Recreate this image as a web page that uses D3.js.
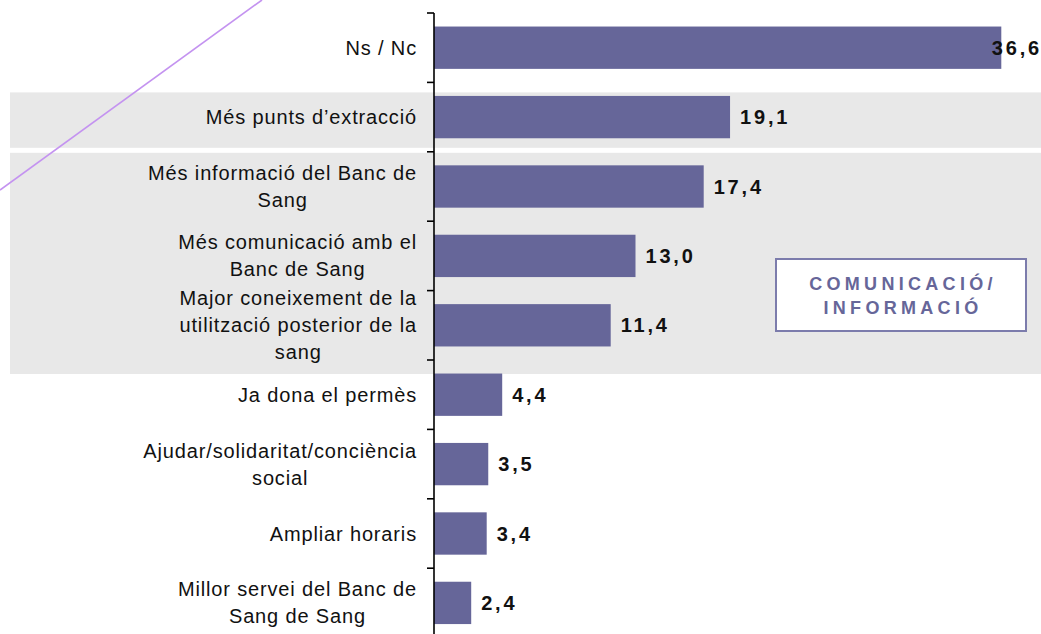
<!DOCTYPE html>
<html>
<head>
<meta charset="utf-8">
<script src="https://cdn.jsdelivr.net/npm/d3@7"></script>
<style>
  html, body { margin: 0; padding: 0; background: #fff; }
  svg { display: block; }
</style>
</head>
<body>
<div id="chart"></div>
<script>
const categories = [
  ["Ns / Nc"],
  ["Més punts d\u2019extracció"],
  ["Més informació del Banc de", "Sang"],
  ["Més comunicació amb el", "Banc de Sang"],
  ["Major coneixement de la", "utilització posterior de la", "sang"],
  ["Ja dona el permès"],
  ["Ajudar/solidaritat/conciència", "social"],
  ["Ampliar horaris"],
  ["Millor servei del Banc de", "Sang de Sang"]
];
const values = [36.6, 19.1, 17.4, 13.0, 11.4, 4.4, 3.5, 3.4, 2.4];
const boxLines = ["COMUNICACIÓ/", "INFORMACIÓ"];

const W = 1041, H = 634;
const BAR = "#666699";
const AXIS_X = 434;

const svg = d3.select("#chart").append("svg")
  .attr("width", W).attr("height", H);

const idx = d3.range(categories.length);

const y = d3.scaleBand()
  .domain(idx)
  .range([13, 13 + 69.4 * categories.length])
  .paddingInner(0.39)
  .paddingOuter(0.195);

const step = y.step();
const bandTop = i => y(i) - step * 0.195;
const bandBot = i => y(i) + y.bandwidth() + step * 0.195;

const x = d3.scaleLinear()
  .domain([0, 40])
  .range([AXIS_X, AXIS_X + 620]);

// grey highlight bands
svg.append("rect")
  .attr("x", 10).attr("y", bandTop(1) + 10)
  .attr("width", W - 10).attr("height", bandBot(1) - bandTop(1) - 14)
  .attr("fill", "#e8e8e8");

svg.append("rect")
  .attr("x", 10).attr("y", bandTop(2) + 1)
  .attr("width", W - 10).attr("height", bandBot(4) - bandTop(2) + 13)
  .attr("fill", "#e8e8e8");

// decorative diagonal
svg.append("line")
  .attr("x1", 0).attr("y1", 190)
  .attr("x2", 262).attr("y2", 0)
  .attr("stroke", "#c493f0").attr("stroke-width", 1.6);

// bars
svg.selectAll(".bar")
  .data(idx)
  .join("rect")
    .attr("class", "bar")
    .attr("x", x(0))
    .attr("y", i => y(i))
    .attr("width", i => x(values[i]) - x(0))
    .attr("height", y.bandwidth())
    .attr("fill", BAR);

// axis line + ticks at band boundaries
svg.append("line")
  .attr("x1", AXIS_X).attr("x2", AXIS_X)
  .attr("y1", 13).attr("y2", H)
  .attr("stroke", "#000").attr("stroke-width", 1.6);

svg.selectAll(".tick")
  .data(d3.range(categories.length + 1))
  .join("line")
    .attr("class", "tick")
    .attr("x1", AXIS_X - 7).attr("x2", AXIS_X)
    .attr("y1", i => 13 + i * step)
    .attr("y2", i => 13 + i * step)
    .attr("stroke", "#000").attr("stroke-width", 1.6);

// category labels
const LINE_H = 27;
svg.selectAll(".cat")
  .data(idx)
  .join("text")
    .attr("class", "cat")
    .attr("text-anchor", "middle")
    .attr("font-family", "'Liberation Sans', Arial, sans-serif")
    .attr("font-size", "20px")
    .attr("letter-spacing", "0.85px")
    .attr("fill", "#111")
    .each(function(i) {
      const lines = categories[i];
      const cy = y(i) + y.bandwidth() / 2;
      const t = d3.select(this);
      lines.forEach((ln, k) => {
        t.append("tspan")
          .attr("y", cy + (k - (lines.length - 1) / 2) * LINE_H + 7)
          .text(ln);
      });
      // right-align block, lines centred inside it
      let maxW = 0;
      t.selectAll("tspan").each(function() {
        maxW = Math.max(maxW, this.getComputedTextLength());
      });
      t.selectAll("tspan").attr("x", 417 - maxW / 2);
    });

// value labels
svg.selectAll(".val")
  .data(idx)
  .join("text")
    .attr("class", "val")
    .attr("font-family", "'Liberation Sans', Arial, sans-serif")
    .attr("font-weight", "bold")
    .attr("font-size", "20px")
    .attr("letter-spacing", "2.8px")
    .attr("fill", "#111")
    .attr("x", i => x(values[i]) + 10)
    .attr("y", i => y(i) + y.bandwidth() / 2 + 7)
    .text(i => d3.format(".1f")(values[i]).replace(".", ","))
    .each(function() {
      const w = this.getComputedTextLength();
      const x0 = +this.getAttribute("x");
      if (x0 + w > W + 1) this.setAttribute("x", W + 1 - w);
    });

// annotation box
const box = svg.append("g");
box.append("rect")
  .attr("x", 776).attr("y", 259)
  .attr("width", 250).attr("height", 72)
  .attr("fill", "#fff")
  .attr("stroke", "#7c7cac").attr("stroke-width", 2);

box.selectAll("text")
  .data(boxLines)
  .join("text")
    .attr("x", 903)
    .attr("y", (d, k) => 290 + k * 24)
    .attr("text-anchor", "middle")
    .attr("font-family", "'Liberation Sans', Arial, sans-serif")
    .attr("font-weight", "bold")
    .attr("font-size", "18px")
    .attr("letter-spacing", "4.3px")
    .attr("fill", "#666699")
    .text(d => d);
</script>
</body>
</html>
